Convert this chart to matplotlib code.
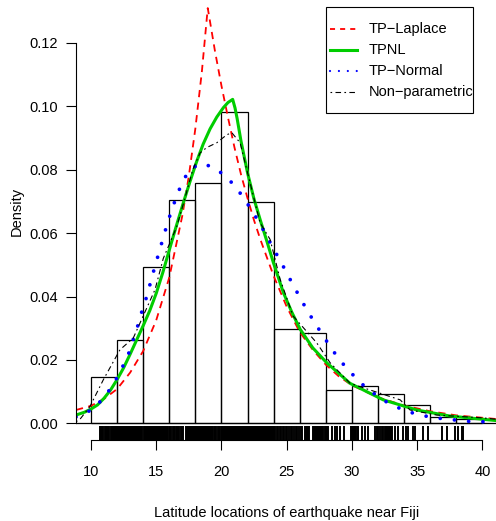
import numpy as np
import matplotlib.pyplot as plt
from matplotlib.lines import Line2D
from matplotlib.patches import Rectangle

plt.rcParams['font.family'] = ['Liberation Sans', 'DejaVu Sans']

W, H = 496, 521

# histogram (bin left edges, densities)
bin_left = [10, 12, 14, 16, 18, 20, 22, 24, 26, 28, 30, 32, 34, 36, 38]
bin_dens = [0.0147, 0.0263, 0.0493, 0.0703, 0.0758, 0.0983, 0.0699, 0.0297,
            0.0286, 0.0104, 0.0118, 0.0094, 0.0058, 0.0021, 0.0015]

# TP-Laplace
lap_x = [8.85, 10.0, 11.0, 12.0, 13.0, 14.0, 15.0, 16.0, 17.0, 17.5, 18.0, 18.5,
         18.95, 19.5, 20.0, 20.5, 21.0, 21.5, 22.0, 22.5, 23.0, 24.0, 25.0, 26.0,
         27.0, 28.0, 29.0, 30.0, 32.0, 34.0, 36.0, 38.0, 41.2]
lap_y = [0.0042, 0.0055, 0.0077, 0.0108, 0.0160, 0.0228, 0.0325, 0.0460, 0.0655,
         0.0780, 0.0930, 0.1110, 0.1310, 0.1175, 0.1065, 0.0965, 0.0870, 0.0785,
         0.0710, 0.0640, 0.0578, 0.0465, 0.0368, 0.0288, 0.0232, 0.0185, 0.0148,
         0.0120, 0.0082, 0.0056, 0.0038, 0.0025, 0.0013]

# TPNL
tpnl_x = [8.85, 9.5, 10.0, 10.5, 11.0, 11.5, 12.0, 12.5, 13.0, 13.5, 14.0, 14.5,
          15.0, 15.5, 16.06, 16.5, 17.08, 17.6, 18.1, 18.6, 19.13, 19.64, 20.15,
          20.5, 20.86, 21.04, 21.2, 21.5, 22.0, 22.5, 23.0, 23.5, 23.98, 24.75,
          25.4, 26.03, 27.0, 28.07, 29.86, 32.4, 34.97, 37.5, 41.2]
tpnl_y = [0.0026, 0.0035, 0.0045, 0.0058, 0.0079, 0.0105, 0.0138, 0.0175, 0.0218,
          0.0263, 0.0308, 0.0355, 0.0410, 0.0475, 0.0555, 0.0617, 0.0696, 0.0764,
          0.0826, 0.0881, 0.0929, 0.0966, 0.0996, 0.1012, 0.1022, 0.0995, 0.0962,
          0.0890, 0.0790, 0.0707, 0.0638, 0.0572, 0.0507, 0.0412, 0.0350, 0.0297,
          0.0238, 0.0191, 0.0126, 0.0074, 0.0042, 0.0023, 0.0008]

# TP-Normal
tpn_x = [8.85, 9.67, 10.48, 11.2, 11.82, 12.35, 12.86, 13.2, 13.58, 13.9, 14.27,
         14.58, 14.88, 15.52, 15.85, 16.21, 16.6, 17.03, 17.64, 18.54, 19.5, 20.33,
         21.07, 21.7, 22.32, 22.9, 23.47, 23.98, 24.55, 25.08, 25.62, 26.16, 26.72,
         27.31, 27.92, 28.53, 29.2, 29.92, 30.65, 31.45, 32.32, 33.21, 34.1, 35.08,
         36.02, 37.02, 38.0, 38.97, 39.96, 41.2]
tpn_y = [0.002, 0.0033, 0.0058, 0.0092, 0.0131, 0.0172, 0.0217, 0.026, 0.0307,
         0.0353, 0.0400, 0.0447, 0.0492, 0.0583, 0.063, 0.0676, 0.072, 0.0764,
         0.0804, 0.0820, 0.0805, 0.0779, 0.0747, 0.0711, 0.0672, 0.0633, 0.0591,
         0.0551, 0.051, 0.0468, 0.0427, 0.0386, 0.0346, 0.0307, 0.0268, 0.0230,
         0.0193, 0.016, 0.0128, 0.0101, 0.0075, 0.0055, 0.004, 0.0027, 0.002,
         0.0014, 0.001, 0.0006, 0.0005, 0.0003]

# non-parametric (kernel density)
kde_x = [8.85, 9.16, 9.92, 10.94, 12.22, 13.24, 14.91, 15.54, 16.57, 17.2, 17.8,
         18.36, 18.87, 19.64, 20.4, 20.79, 21.43, 21.81, 22.96, 23.73, 24.5, 25.5,
         27.3, 28.33, 29.86, 31.4, 33.7, 34.46, 36.5, 40.06, 41.2]
kde_y = [0.0005, 0.0013, 0.0053, 0.0137, 0.0232, 0.0269, 0.0422, 0.052, 0.062,
         0.071, 0.080, 0.0853, 0.087, 0.0885, 0.091, 0.0917, 0.0885, 0.0822,
         0.0633, 0.058, 0.0454, 0.0338, 0.0254, 0.0191, 0.0126, 0.0105, 0.0074,
         0.0042, 0.0026, 0.0017, 0.0012]

# rug (latitudes)
rug_lat = [
    10.72, 10.79, 10.87, 10.93, 11.07, 11.15, 11.22, 11.3, 11.37, 11.53, 11.6, 11.68,
    11.75, 11.83, 11.9, 11.97,
    12.05, 12.13, 12.2, 12.28, 12.36, 12.44, 12.51, 12.59, 12.67, 12.74, 12.82, 12.9, 12.97,
    13.05, 13.13, 13.2, 13.28, 13.36, 13.43, 13.51, 13.59, 13.66, 13.74, 13.82, 13.9,
    14.08, 14.16, 14.24, 14.31, 14.39, 14.47, 14.54, 14.62, 14.7, 14.78, 14.85, 14.93,
    15.01, 15.09, 15.16, 15.24, 15.32, 15.4, 15.47, 15.55, 15.63, 15.71, 15.78, 15.86, 15.94,
    16.02, 16.09, 16.17, 16.25, 16.33, 16.4, 16.48, 16.56, 16.64, 16.71, 16.92, 16.99, 17.07,
    17.3, 17.37, 17.45, 17.53, 17.61, 17.68, 17.76, 17.84, 17.92, 17.99,
    18.07, 18.15, 18.23, 18.3, 18.38, 18.46, 18.54, 18.61, 18.69, 18.77, 18.85, 18.92,
    19.0, 19.08, 19.16, 19.23, 19.31, 19.39, 19.47, 19.54, 19.62, 19.7, 19.78, 19.85, 19.93,
    20.01, 20.09, 20.16, 20.24, 20.32, 20.4, 20.47, 20.55, 20.63, 20.71, 20.78, 20.86, 20.94,
    21.02, 21.09, 21.17, 21.25, 21.33, 21.4, 21.48, 21.56, 21.64, 21.71, 21.79, 21.87, 21.95,
    22.02, 22.1, 22.18, 22.26, 22.33, 22.41, 22.49, 22.57, 22.64, 22.72, 22.8, 22.88, 22.95,
    23.03, 23.11, 23.19, 23.26, 23.34, 23.42, 23.5, 23.57, 23.65, 23.73, 23.81, 23.88, 23.96,
    24.04, 24.12, 24.25, 24.33, 24.48, 24.56, 24.7, 24.78, 24.93, 25.0, 25.15, 25.3, 25.38,
    25.55, 25.7, 25.78, 25.95, 26.1, 26.2,
    26.42, 26.5, 26.58, 26.66, 26.74, 27.02, 27.1, 27.18, 27.26, 27.34, 27.42, 27.5, 27.58,
    27.66, 27.74, 27.82, 27.9, 27.98, 28.06, 28.14,
    28.46, 28.71, 28.89, 29.1, 29.4, 29.95, 30.03, 30.11, 30.19, 30.27, 30.35, 30.43, 30.5,
    30.8, 31.0, 31.2, 31.78, 31.9, 32.03, 32.15, 32.29, 32.4, 32.55, 32.63, 32.7, 32.78,
    32.86, 32.93, 33.02, 33.1, 33.3, 33.5, 33.9, 34.16, 34.33, 34.7, 34.85, 35.48, 35.8,
    36.9, 37.28, 37.91, 38.17, 38.43, 38.55]

x_ticks = [10, 15, 20, 25, 30, 35, 40]
y_ticks = [0.0, 0.02, 0.04, 0.06, 0.08, 0.10, 0.12]
y_labels = ['0.00', '0.02', '0.04', '0.06', '0.08', '0.10', '0.12']
legend_labels = ['TP\u2212Laplace', 'TPNL', 'TP\u2212Normal', 'Non\u2212parametric']

fs = 10.5
fig = plt.figure(figsize=(W / 100, H / 100), dpi=100)
ax = fig.add_axes([76 / W, 1 - 440 / H, 422 / W, 437 / H])
ax.set_xlim(8.85, 41.2)
ax.set_ylim(-0.00527, 0.1326)

ax.bar(bin_left, bin_dens, width=2, align='edge', fill=False,
       edgecolor='black', linewidth=0.9)
ax.axhline(0, color='black', lw=0.9)

ax.plot(lap_x, lap_y, color='#FF0000', lw=1.3, dashes=(4, 3))
ax.plot(tpnl_x, tpnl_y, color='#00CD00', lw=2.2)
ax.plot(tpn_x, tpn_y, color='#0000FF', lw=2.7, linestyle=(0, (0.01, 3.8)),
        dash_capstyle='round')
ax.plot(kde_x, kde_y, color='black', lw=0.8, dashes=(1.5, 3, 5, 3))

ax.vlines(rug_lat, 0, 14 / 437, transform=ax.get_xaxis_transform(),
          color='black', lw=1.4)

for s in ['top', 'right']:
    ax.spines[s].set_visible(False)
ax.spines['bottom'].set_bounds(10, 40)
ax.spines['left'].set_bounds(0, 0.12)
ax.spines['bottom'].set_linewidth(0.8)
ax.spines['left'].set_linewidth(0.8)
ax.set_xticks(x_ticks)
ax.set_xticklabels([str(t) for t in x_ticks])
ax.set_yticks(y_ticks)
ax.set_yticklabels(y_labels)
ax.tick_params(axis='both', direction='out', length=7, width=0.8,
               labelsize=fs, colors='black')
ax.tick_params(axis='x', pad=11)
ax.tick_params(axis='y', pad=6)

fig.text(287 / W, 1 - 513 / H, 'Latitude locations of earthquake near Fiji',
         ha='center', va='center', fontsize=fs)
fig.text(16.5 / W, 1 - 211 / H, 'Density', rotation=90,
         ha='center', va='center', fontsize=fs)

# legend box, drawn by hand
fig.add_artist(Rectangle((326 / W, 1 - 112.7 / H), 147 / W, 106 / H,
                         transform=fig.transFigure, fill=False,
                         edgecolor='black', lw=0.8))
rows = [29.3, 50, 71, 91.7]
styles = [dict(color='#FF0000', lw=1.3, dashes=(2.8, 2.8)),
          dict(color='#00CD00', lw=2.2),
          dict(color='#0000FF', lw=1.6, linestyle=(0, (0.01, 4.0)), dash_capstyle='round'),
          dict(color='black', lw=0.8, dashes=(1.5, 3, 5, 3))]
for py, st, lab in zip(rows, styles, legend_labels):
    fig.add_artist(Line2D([330 / W, 357 / W], [1 - py / H, 1 - py / H],
                          transform=fig.transFigure, **st))
    fig.text(369 / W, 1 - py / H, lab, ha='left', va='center', fontsize=fs)

fig.savefig('out.png', dpi=100)
